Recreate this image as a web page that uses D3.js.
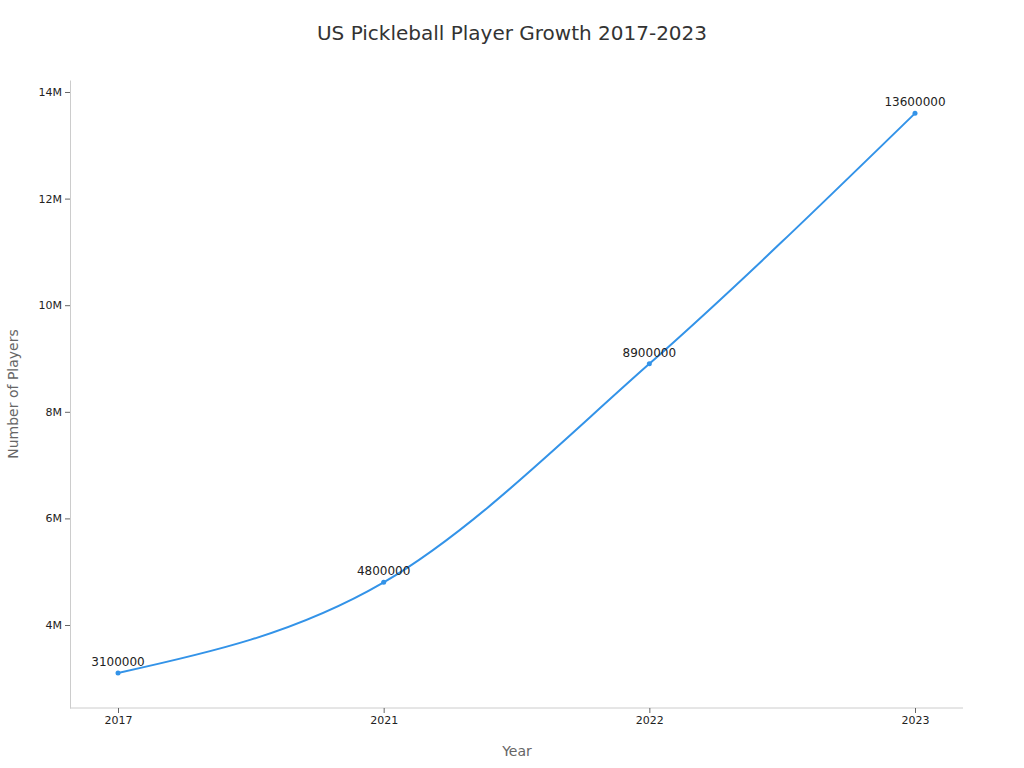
<!DOCTYPE html>
<html><head><meta charset="utf-8">
<script src="https://cdn.jsdelivr.net/npm/d3@7"></script>
<style>body{margin:0;background:#fff;font-family:"DejaVu Sans",sans-serif}</style>
</head><body><svg id="c" width="1024" height="768"></svg>
<script>
const years=["2017","2021","2022","2023"];
const players=[3100000,4800000,8900000,13600000];
const yTicks=[4e6,6e6,8e6,10e6,12e6,14e6];
const svg=d3.select("#c");
const x=d3.scalePoint().domain(years).range([118,915]);
const y=d3.scaleLinear().domain([2443000,14225000]).range([708,80]);
svg.append("text").attr("x",512).attr("y",40).attr("text-anchor","middle").attr("font-size",20).attr("fill","#333").text("US Pickleball Player Growth 2017-2023");
const ya=svg.append("g").attr("transform","translate(70,0)").call(d3.axisLeft(y).tickValues(yTicks).tickFormat(d=>d/1e6+"M").tickSize(5).tickSizeOuter(0));
const xa=svg.append("g").attr("transform","translate(0,708)").call(d3.axisBottom(x).tickSize(5).tickSizeOuter(0));
xa.select(".domain").attr("d","M70,0H963");
[ya,xa].forEach(a=>{a.select(".domain").attr("stroke","#ccc");a.selectAll(".tick line").attr("stroke","#666");a.selectAll("text").attr("font-size",11).attr("fill","#222").attr("font-family","DejaVu Sans");});
svg.append("text").attr("x",517).attr("y",756).attr("text-anchor","middle").attr("font-size",14).attr("fill","#666").text("Year");
svg.append("text").attr("transform","translate(18,394) rotate(-90)").attr("text-anchor","middle").attr("font-size",14).attr("fill","#666").text("Number of Players");
const data=years.map((d,i)=>({y:d,v:players[i]}));
svg.append("path").datum(data).attr("fill","none").attr("stroke","#3393e8").attr("stroke-width",2)
 .attr("d",d3.line().x(d=>x(d.y)).y(d=>y(d.v)).curve(d3.curveMonotoneX));
svg.selectAll("circle").data(data).enter().append("circle").attr("cx",d=>x(d.y)).attr("cy",d=>y(d.v)).attr("r",2.5).attr("fill","#3393e8");
svg.selectAll(".lbl").data(data).enter().append("text").attr("x",d=>x(d.y)).attr("y",d=>y(d.v)-7).attr("text-anchor","middle").attr("font-size",12).attr("fill","#222").text(d=>d.v);
</script></body></html>
